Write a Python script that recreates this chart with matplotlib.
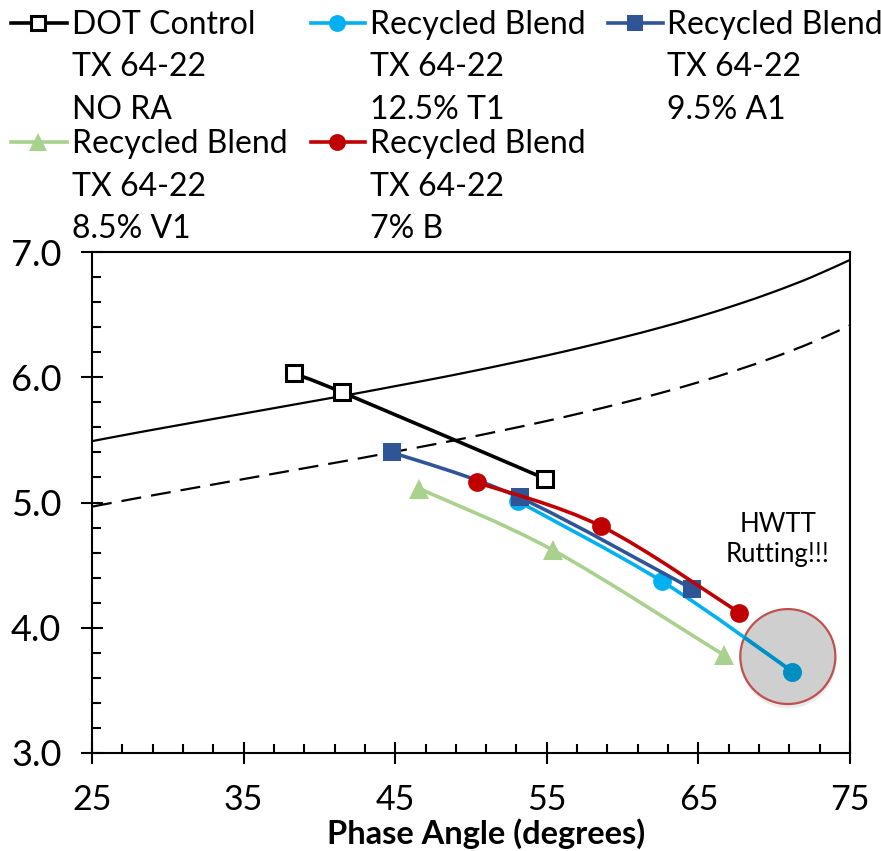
import numpy as np
import matplotlib
matplotlib.use("Agg")
import matplotlib.pyplot as plt
from matplotlib.path import Path
from matplotlib.patches import PathPatch, Ellipse
from matplotlib.lines import Line2D

plt.rcParams['font.family'] = ['Lato', 'DejaVu Sans']

# Criterion curves: log G* at a given phase angle
crit_delta = [25, 27.5, 30, 32.5, 35, 37.5, 40, 42.5, 45, 47.5, 50, 52.5, 55, 57.5, 60,
              62.5, 65, 67.5, 70, 72.5, 75]
crit_upper = [5.490, 5.547, 5.602, 5.656, 5.710, 5.764, 5.818, 5.872, 5.929, 5.986, 6.046,
              6.109, 6.174, 6.244, 6.318, 6.397, 6.483, 6.578, 6.683, 6.801, 6.937]
crit_lower = [4.967, 5.024, 5.079, 5.133, 5.187, 5.241, 5.295, 5.349, 5.406, 5.463, 5.523,
              5.586, 5.651, 5.721, 5.795, 5.874, 5.960, 6.055, 6.160, 6.278, 6.414]

# Binder series: phase angle (deg) and log G*
dot_x = [38.3, 41.5, 54.9]
dot_y = [6.03, 5.88, 5.19]
t1_x = [53.1, 62.6, 71.2]
t1_y = [5.01, 4.37, 3.65]
a1_x = [44.8, 53.2, 64.6]
a1_y = [5.40, 5.04, 4.31]
v1_x = [46.6, 55.4, 66.7]
v1_y = [5.11, 4.62, 3.78]
b_x = [50.4, 58.6, 67.7]
b_y = [5.16, 4.81, 4.12]

legend_labels = [
    ["DOT Control", "TX 64-22", "NO RA"],
    ["Recycled Blend", "TX 64-22", "12.5% T1"],
    ["Recycled Blend", "TX 64-22", "9.5% A1"],
    ["Recycled Blend", "TX 64-22", "8.5% V1"],
    ["Recycled Blend", "TX 64-22", "7% B"],
]

x_ticks = [25, 35, 45, 55, 65, 75]
y_ticks = [3.0, 4.0, 5.0, 6.0, 7.0]

# Highlight ring around the rutting point
ring_center = (70.9, 3.77)
ring_w, ring_h = 6.27, 0.758

W, H = 881, 851
fig = plt.figure(figsize=(W / 100, H / 100), dpi=100)
ax = fig.add_axes([92 / W, 1 - 753 / H, (850 - 92) / W, (753 - 252) / H])


def fx(x):
    return x / W


def fy(y):
    return 1 - y / H


def smooth_path(xs, ys):
    pts = np.column_stack([xs, ys]).astype(float)
    n = len(pts)
    verts = [pts[0]]
    codes = [Path.MOVETO]
    for i in range(n - 1):
        p0 = pts[max(i - 1, 0)]
        p1 = pts[i]
        p2 = pts[i + 1]
        p3 = pts[min(i + 2, n - 1)]
        c1 = p1 + (p2 - p0) / 6.0
        c2 = p2 - (p3 - p1) / 6.0
        verts += [c1, c2, p2]
        codes += [Path.CURVE4] * 3
    return Path(verts, codes)


# criterion curves
ax.add_patch(PathPatch(smooth_path(crit_delta, crit_upper), fill=False, edgecolor='black',
                       lw=1.6, zorder=1))
ax.add_patch(PathPatch(smooth_path(crit_delta, crit_lower), fill=False, edgecolor='black',
                       lw=1.6, linestyle=(0, (9, 4.5)), zorder=1))

# ring (drawn under the series)
shadow = Ellipse((ring_center[0] + 0.03, ring_center[1] - 0.03), ring_w * 1.01, ring_h * 1.01,
                 facecolor='#000000', edgecolor='none', alpha=0.08, zorder=1.3)
ax.add_patch(shadow)
ring = Ellipse(ring_center, ring_w, ring_h, facecolor='#CFCFCF', edgecolor='#C0504D',
               lw=1.6, zorder=1.5)
ax.add_patch(ring)

series = [
    (dot_x, dot_y, dict(color='black', marker='s', ms=11, mfc='white', mec='black', mew=2.2)),
    (t1_x, t1_y, dict(color='#00B0F0', marker='o', ms=13.5, mfc='#00B0F0', mec='#00B0F0', mew=0)),
    (a1_x, a1_y, dict(color='#2F5597', marker='s', ms=13, mfc='#2F5597', mec='#2F5597', mew=0)),
    (v1_x, v1_y, dict(color='#A9D18E', marker='^', ms=14, mfc='#A9D18E', mec='#A9D18E', mew=0)),
    (b_x, b_y, dict(color='#C00000', marker='o', ms=13.5, mfc='#C00000', mec='#C00000', mew=0)),
]

z = 2
for xs, ys, st in series:
    patch = PathPatch(smooth_path(xs, ys), fill=False, edgecolor=st['color'], lw=2.6,
                      capstyle='round', joinstyle='round', zorder=z)
    ax.add_patch(patch)
    ax.plot(xs, ys, linestyle='none', marker=st['marker'], ms=st['ms'], mfc=st['mfc'],
            mec=st['mec'], mew=st['mew'], zorder=z + 0.1)
    z += 0.2

# the part of the T1 series inside the ring is shaded darker
dark = '#008FC3'
inner = PathPatch(smooth_path(t1_x, t1_y), fill=False, edgecolor=dark, lw=2.6,
                  capstyle='round', zorder=2.35)
ax.add_patch(inner)
inner.set_clip_path(ring)
inner_pts, = ax.plot(t1_x, t1_y, linestyle='none', marker='o', ms=13.5, mfc=dark, mec=dark,
                     mew=0, zorder=2.36)
inner_pts.set_clip_path(ring)

ax.text(70.25, 4.764, "HWTT", ha='center', va='baseline', fontsize=18.5)
ax.text(70.25, 4.525, "Rutting!!!", ha='center', va='baseline', fontsize=18.5)

ax.set_xlim(25, 75)
ax.set_ylim(3.0, 7.0)
ax.set_xticks(x_ticks)
ax.set_xticklabels([str(v) for v in x_ticks])
ax.set_yticks(y_ticks)
ax.set_yticklabels([f"{v:.1f}" for v in y_ticks])
ax.set_xticks(np.arange(25, 75.01, 2), minor=True)
ax.set_yticks(np.arange(3.0, 7.001, 0.2), minor=True)
ax.tick_params(which='major', direction='inout', length=16, width=1.5, labelsize=26, colors='black')
ax.tick_params(axis='x', which='major', pad=14, labelsize=24.5)
ax.tick_params(axis='y', which='major', pad=14)
ax.tick_params(which='minor', direction='in', length=6.5, width=1.5)
for s in ax.spines.values():
    s.set_linewidth(1.5)

# axis title
fig.text(fx(486), fy(844), "Phase Angle (degrees)", fontsize=23.5, fontweight='bold',
         ha='center', va='baseline')

# legend drawn in figure pixel units
legend_styles = [s[2] for s in series]
legend_slots = [
    (11, 67, 38, 23, 72),
    (311, 365, 337, 23, 370),
    (608, 663, 635, 23, 667),
    (11, 67, 38, 142, 72),
    (311, 365, 337, 142, 370),
]
line_gap = 42.5
for (x0, x1, xm, yc, xt), st, lines in zip(legend_slots, legend_styles, legend_labels):
    fig.add_artist(Line2D([fx(x0), fx(x1)], [fy(yc), fy(yc)], transform=fig.transFigure,
                          color=st['color'], lw=2.6))
    fig.add_artist(Line2D([fx(xm)], [fy(yc)], transform=fig.transFigure, linestyle='none',
                          marker=st['marker'], ms=st['ms'] * 0.9, mfc=st['mfc'], mec=st['mec'],
                          mew=st['mew']))
    for k, txt in enumerate(lines):
        fig.text(fx(xt), fy(yc + 11 + k * line_gap), txt, fontsize=23, ha='left', va='baseline')

fig.savefig('out.png', dpi=100, facecolor='white')
